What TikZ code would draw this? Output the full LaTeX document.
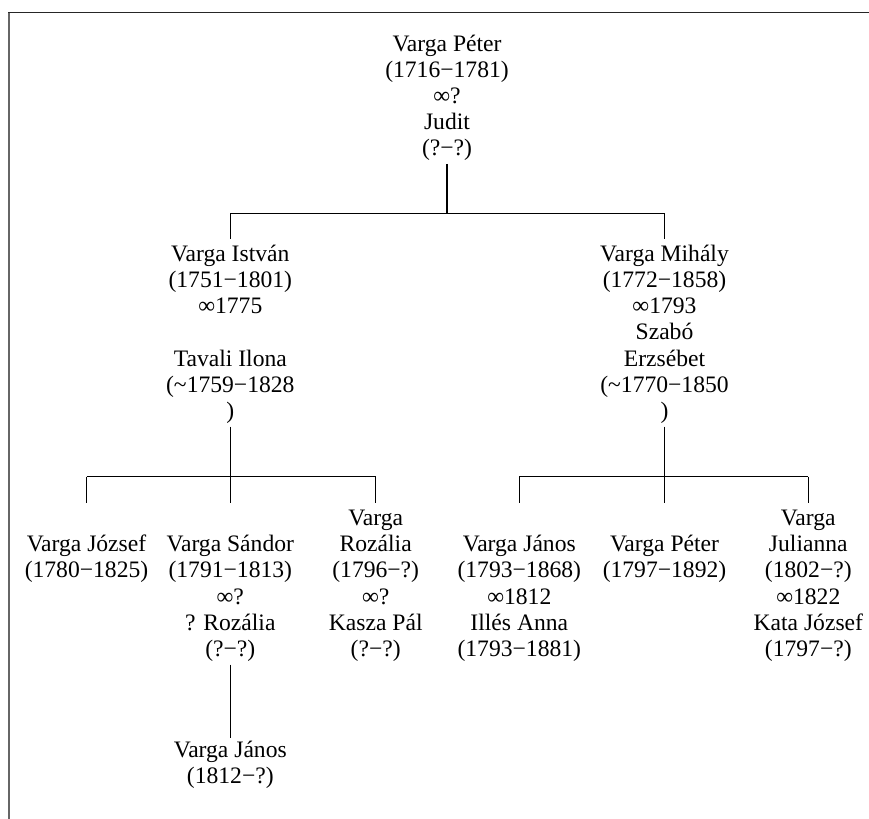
\documentclass[tikz,border=0pt]{standalone}
\usepackage{fontspec}
\setmainfont{Liberation Serif}
\usepackage{tikz}
\usetikzlibrary{positioning}
\tikzset{person/.style={align=center, inner sep=0pt, outer sep=1.5pt, anchor=base, font=\fontsize{11.8}{13.1}\selectfont},
	link/.style={line width=0.55pt}}
\begin{document}
\begin{tikzpicture}[x=0.5pt,y=-0.5pt]
	\useasboundingbox (0,0) rectangle (869,819);
	\draw[line width=1pt,black!60] (9,819) -- (9,12.7);
	\draw[line width=0.65pt,black!85] (8,12.7) -- (869,12.7);
	\node[person] (p) at (447,155.8) {Varga Péter\\(1716−1781)\\∞?\\Judit\\(?−?)};
	\node[person] (istvan) at (230.3,418.5) {Varga István\\(1751−1801)\\∞1775\\[13.1pt]Tavali Ilona\\(\textasciitilde1759−1828\\)};
	\node[person] (mihaly) at (664.5,418.5) {Varga Mihály\\(1772−1858)\\∞1793\\Szabó\\Erzsébet\\(\textasciitilde1770−1850\\)};
	\node[person] (jozsef) at (86.5,577.7) {Varga József\\(1780−1825)};
	\node[person] (sandor) at (230.3,656.5) {Varga Sándor\\(1791−1813)\\∞?\\? Rozália\\(?−?)};
	\node[person] (rozalia) at (375.7,656.5) {Varga\\Rozália\\(1796−?)\\∞?\\Kasza Pál\\(?−?)};
	\node[person] (janos) at (230.3,783.2) {Varga János\\(1812−?)};
	\node[person] (janosm) at (519.3,656.5) {Varga János\\(1793−1868)\\∞1812\\Illés Anna\\(1793−1881)};
	\node[person] (peter) at (664.5,577.7) {Varga Péter\\(1797−1892)};
	\node[person] (julianna) at (808.3,656.5) {Varga\\Julianna\\(1802−?)\\∞1822\\Kata József\\(1797−?)};
	\coordinate (b1) at (447,213.8);
	\coordinate (d1) at (0,239.3);
	\coordinate (b2) at (0,476.7);
	\coordinate (d2) at (0,503.3);
	\draw[link] (p.south) -- (p.south |- b1);
	\draw[link] (istvan.north |- b1) -- (mihaly.north |- b1);
	\foreach \c in {istvan,mihaly}
		\draw[link] (\c.north |- b1) -- (\c.north |- d1);
	\draw[link] (istvan.south) -- (istvan.south |- b2);
	\draw[link] (jozsef.north |- b2) -- (rozalia.north |- b2);
	\foreach \c in {jozsef,sandor,rozalia}
		\draw[link] (\c.north |- b2) -- (\c.north |- d2);
	\draw[link] (mihaly.south) -- (mihaly.south |- b2);
	\draw[link] (janosm.north |- b2) -- (julianna.north |- b2);
	\foreach \c in {janosm,peter,julianna}
		\draw[link] (\c.north |- b2) -- (\c.north |- d2);
	\draw[link] (sandor.south) -- (janos.north);
\end{tikzpicture}
\end{document}
